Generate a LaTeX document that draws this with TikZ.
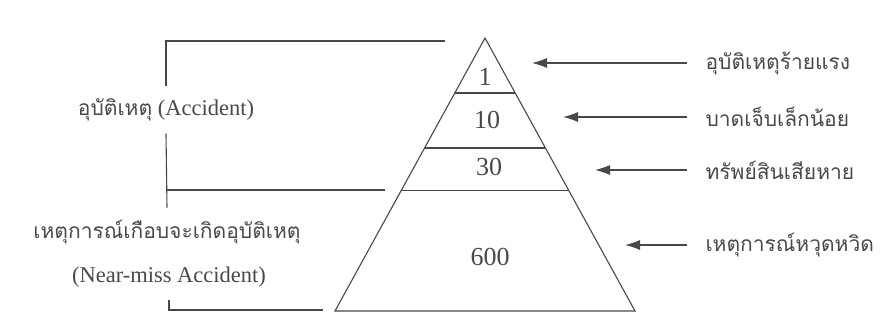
\documentclass[tikz,border=0pt]{standalone}
\usepackage{fontspec}
\setmainfont{Liberation Serif}
\newfontfamily\thaifont[Script=Thai]{Loma}
\usepackage{tikz}
\usetikzlibrary{arrows.meta, positioning, calc}
\usepackage{xcolor}
\definecolor{inkgray}{RGB}{72,72,72}

\begin{document}
\begin{tikzpicture}[x=1pt, y=-1pt, inkgray, line width=1.1pt,
    every node/.style={text=inkgray, font=\fontsize{22.5}{26}\selectfont},
    numlbl/.style={font=\fontsize{26}{30}\selectfont},
    thlbl/.style={anchor=west, inner xsep=18pt, font=\fontsize{21}{25}\selectfont\thaifont},
    sidelbl/.style={inner sep=12pt},
    pointer/.style={-{Latex[length=15pt, width=10pt]}}]
  \useasboundingbox (0,0) rectangle (892,327);
  % pyramid
  \coordinate (apex) at (485,38);
  \coordinate (bl) at (335,311);
  \coordinate (br) at (635,311);
  \draw (apex) -- (bl) -- (br) -- cycle;
  \foreach \t/\lvl in {0.2015/a, 0.403/b, 0.560/c}
    \draw ($(apex)!\t!(bl)$) coordinate (L\lvl) -- ($(apex)!\t!(br)$) coordinate (R\lvl);
  \node[numlbl] (n1) at (485,77) {1};
  \node[numlbl] (n10) at (487,120) {10};
  \node[numlbl] (n30) at (489,167) {30};
  \node[numlbl] (n600) at (490,257) {600};
  % right labels
  \node[thlbl] (serious) at (687,63) {อุบัติเหตุร้ายแรง};
  \node[thlbl] (minor) at (687,117) {บาดเจ็บเล็กน้อย};
  \node[thlbl] (damage) at (687,170) {ทรัพย์สินเสียหาย};
  \node[thlbl] (nearmiss) at (687,245) {เหตุการณ์หวุดหวิด};
  \coordinate (t1) at (532,63);
  \coordinate (t2) at (563,117);
  \coordinate (t3) at (595,170);
  \coordinate (t4) at (625,245);
  \draw[pointer] (serious.west) -- (t1);
  \draw[pointer] (minor.west) -- (t2);
  \draw[pointer] (damage.west) -- (t3);
  \draw[pointer] (nearmiss.west) -- (t4);
  % left brackets
  \node[sidelbl] (acc) at (166,110) {{\thaifont\fontsize{21}{25}\selectfont อุบัติเหตุ} (Accident)};
  \node[sidelbl] (nm) at (167,232) {\thaifont\fontsize{21}{25}\selectfont เหตุการณ์เกือบจะเกิดอุบัติเหตุ};
  \node[sidelbl] (nmen) at (169,277) {(Near-miss Accident)};
  \coordinate (topR) at (445,41);
  \coordinate (midR) at (385,190);
  \coordinate (botR) at (323,310);
  \draw (topR) -| (acc.north);
  \draw (acc.south) -- (nm.north);
  \draw (midR) -- (midR -| acc.south);
  \draw (nmen.south) |- (botR);
\end{tikzpicture}
\end{document}
